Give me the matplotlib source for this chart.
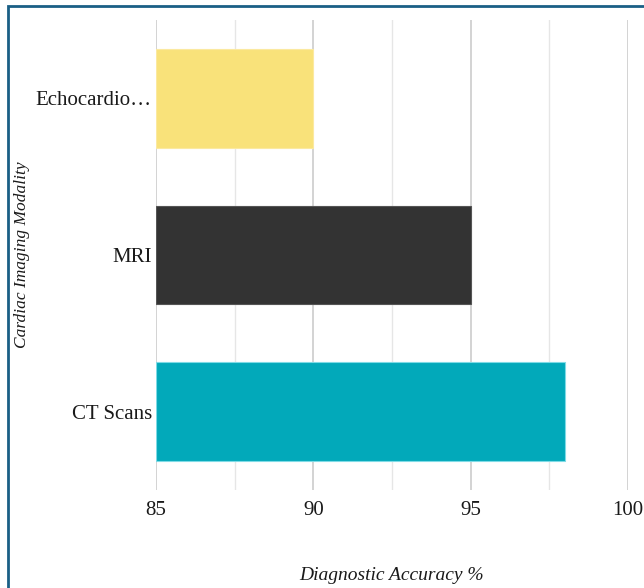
import matplotlib.pyplot as plt
from matplotlib.patches import Rectangle
from matplotlib.ticker import MultipleLocator

modalities = ['CT Scans', 'MRI', 'Echocardio…']
accuracy = [98, 95, 90]
bar_colors = ['#02a9ba', '#333333', '#f9e27a']
edge_colors = ['#7fdbe6', '#555555', '#fbe9a0']

fig = plt.figure(figsize=(6.44, 5.88), dpi=100)
ax = fig.add_axes([156 / 644, 1 - 490 / 588, (628 - 156) / 644, 470 / 588])

# bars start at the left edge of the axis (85)
ax.barh(range(len(modalities)), [a - 85 for a in accuracy], left=85, height=0.63,
        color=bar_colors, edgecolor=edge_colors, linewidth=0.8, zorder=2)

ax.set_xlim(85, 100)
ax.set_ylim(-0.5, 2.5)
ax.xaxis.set_major_locator(MultipleLocator(5))
ax.xaxis.set_minor_locator(MultipleLocator(2.5))
ax.grid(axis='x', which='major', color='#cccccc', linewidth=1.2, zorder=0)
ax.grid(axis='x', which='minor', color='#e6e6e6', linewidth=1.0, zorder=0)

ax.set_yticks(range(len(modalities)))
ax.set_yticklabels(modalities)
for s in ax.spines.values():
    s.set_visible(False)
ax.tick_params(axis='both', which='both', length=0)
ax.tick_params(axis='x', pad=8)
ax.tick_params(axis='y', pad=3)
for lbl in ax.get_xticklabels() + ax.get_yticklabels():
    lbl.set_fontfamily('Liberation Serif')
    lbl.set_fontsize(15)
    lbl.set_color('#1a1a1a')

ax.set_xlabel('Diagnostic Accuracy %', fontfamily='Liberation Serif', fontstyle='italic',
              fontsize=14, color='#1a1a1a')
ax.xaxis.set_label_coords(0.5, -85 / 470)
ax.xaxis.label.set_va('center')
fig.text(22 / 644, 1 - 255 / 588, 'Cardiac Imaging Modality', rotation=90,
         ha='center', va='center', fontfamily='Liberation Serif', fontstyle='italic',
         fontsize=12.5, color='#1a1a1a')

# outer frame, open at the right and bottom edges
fig.patches.append(Rectangle((8 / 644, -0.1), 1.2, 1 - 6 / 588 + 0.1,
                             transform=fig.transFigure, fill=False,
                             edgecolor='#1a5f85', linewidth=2))

fig.savefig('out.png', dpi=100)
